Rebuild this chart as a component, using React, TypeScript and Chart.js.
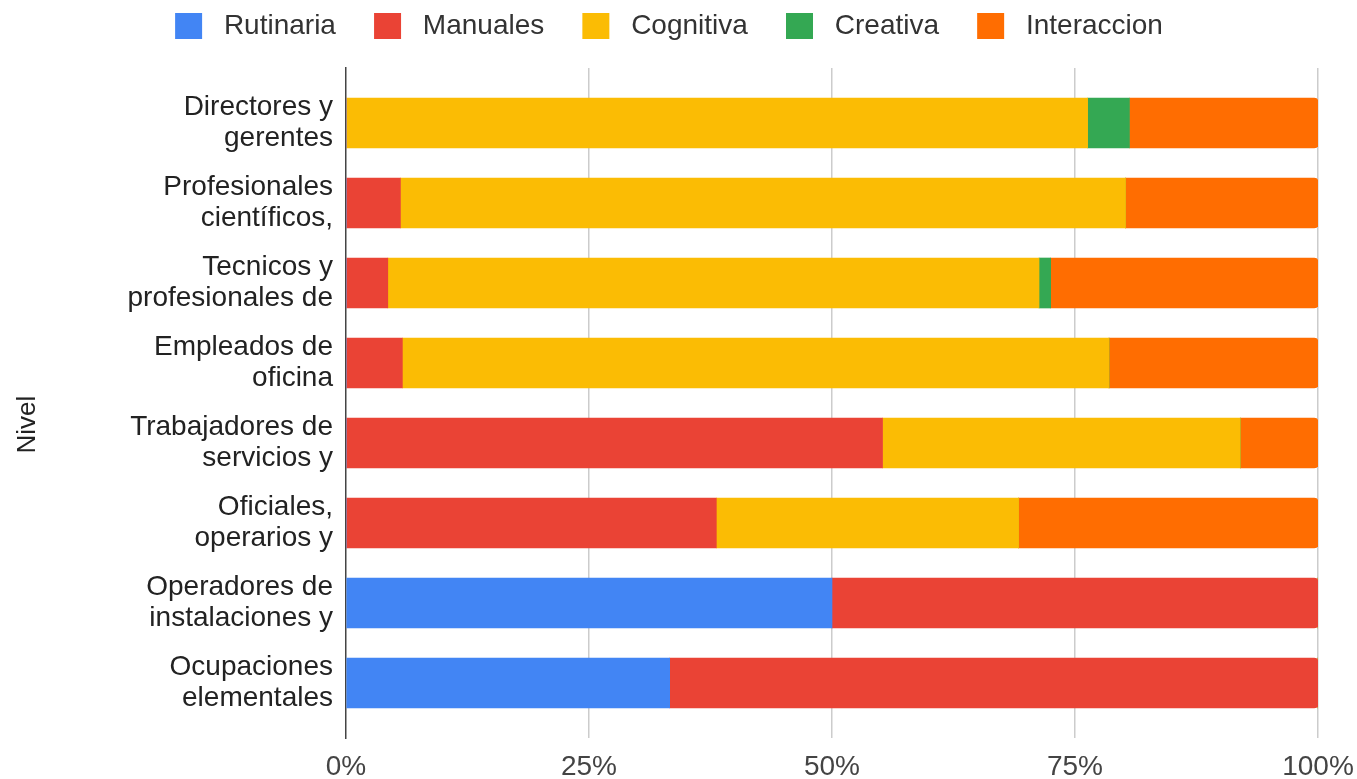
import React, { useEffect, useRef } from "react";
import { Chart, registerables } from "chart.js";

Chart.register(...registerables);

const categories: string[][] = [
  ["Directores y", "gerentes"],
  ["Profesionales", "científicos,"],
  ["Tecnicos y", "profesionales de"],
  ["Empleados de", "oficina"],
  ["Trabajadores de", "servicios y"],
  ["Oficiales,", "operarios y"],
  ["Operadores de", "instalaciones y"],
  ["Ocupaciones", "elementales"],
];

const seriesNames = ["Rutinaria", "Manuales", "Cognitiva", "Creativa", "Interaccion"];
const rutinaria = [0, 0, 0, 0, 0, 0, 50, 33.3];
const manuales = [0, 5.6, 4.3, 5.8, 55.2, 38.1, 50, 66.7];
const cognitiva = [76.3, 74.6, 67.0, 72.7, 36.8, 31.1, 0, 0];
const creativa = [4.3, 0, 1.2, 0, 0, 0, 0, 0];
const interaccion = [19.4, 19.8, 27.5, 21.5, 8.0, 30.8, 0, 0];
const seriesColors = ["#4285F4", "#EA4335", "#FBBC04", "#34A853", "#FF6D01"];
const xTickValues = [0, 25, 50, 75, 100];
const axisTitle = "Nivel";

const FONT = "'Liberation Sans', Arial, sans-serif";

export default function App() {
  const canvasRef = useRef<HTMLCanvasElement | null>(null);

  useEffect(() => {
    if (!canvasRef.current) return;
    Chart.defaults.font.family = FONT;
    const seriesValues = [rutinaria, manuales, cognitiva, creativa, interaccion];
    const chart = new Chart(canvasRef.current, {
      type: "bar",
      data: {
        datasets: seriesNames.map((name, si) => ({
          label: name,
          data: seriesValues[si].map((v, i) => ({ x: v, y: i })),
          backgroundColor: seriesColors[si],
          borderWidth: 0,
          borderRadius: 4,
          barThickness: 50,
        })),
      },
      options: {
        indexAxis: "y",
        animation: false,
        responsive: true,
        maintainAspectRatio: false,
        layout: { padding: { top: 5, left: 20, right: 39, bottom: 0 } },
        plugins: {
          tooltip: { enabled: false },
          legend: {
            position: "top",
            align: "center",
            labels: {
              font: { size: 28, family: FONT },
              color: "#333",
              boxWidth: 27,
              boxHeight: 26,
              padding: 7,
              useBorderRadius: true,
              borderRadius: 3,
              generateLabels: (ch: any) =>
                ch.data.datasets.map((ds: any, i: number) => ({
                  text: " " + ds.label + (i < ch.data.datasets.length - 1 ? "    " : ""),
                  fillStyle: ds.backgroundColor,
                  strokeStyle: ds.backgroundColor,
                  lineWidth: 0,
                  hidden: false,
                  datasetIndex: i,
                  fontColor: "#333",
                })),
            },
          },
        },
        scales: {
          x: {
            type: "linear",
            position: "bottom",
            stacked: true,
            min: 0,
            max: 100,
            afterBuildTicks: (axis: any) => {
              axis.ticks = xTickValues.map((v) => ({ value: v }));
            },
            afterFit: (s: any) => {
              s.height = 41;
              s.paddingLeft = 0;
              s.paddingRight = 0;
            },
            grid: {
              drawTicks: false,
              lineWidth: 1.5,
              color: (ctx: any) => (ctx.index === 0 ? "rgba(0,0,0,0)" : "#cccccc"),
            },
            border: { display: false },
            ticks: {
              padding: 12,
              font: { size: 28, family: FONT },
              color: "#444",
              callback: (v: any) => v + "%",
            },
          },
          xTop: {
            type: "linear",
            position: "top",
            display: true,
            grid: { display: false },
            border: { display: false },
            ticks: { display: false },
            afterFit: (s: any) => {
              s.height = 18;
              s.paddingLeft = 0;
              s.paddingRight = 0;
            },
          },
          y: {
            type: "linear",
            reverse: true,
            stacked: true,
            offset: false,
            min: -0.6875,
            max: 7.6875,
            afterBuildTicks: (axis: any) => {
              axis.ticks = categories.map((_, i) => ({ value: i }));
            },
            afterFit: (s: any) => {
              s.width = 326;
              s.paddingTop = 0;
              s.paddingBottom = 0;
            },
            grid: { display: false, drawTicks: false, offset: false },
            border: { display: true, color: "#444", width: 1.5 },
            ticks: {
              autoSkip: false,
              padding: 13,
              font: { size: 28, family: FONT, lineHeight: 1.12 },
              color: "#222",
              callback: (v: any) => categories[v] ?? "",
            },
            title: {
              display: true,
              text: axisTitle + "      ",
              font: { size: 26, family: FONT },
              color: "#222",
              padding: { top: -8, bottom: 0 },
            },
          },
        },
      },
    });
    return () => chart.destroy();
  }, []);

  return (
    <div style={{ position: "absolute", left: 0, top: 0, width: 1357, height: 779 }}>
      <canvas ref={canvasRef} />
    </div>
  );
}
